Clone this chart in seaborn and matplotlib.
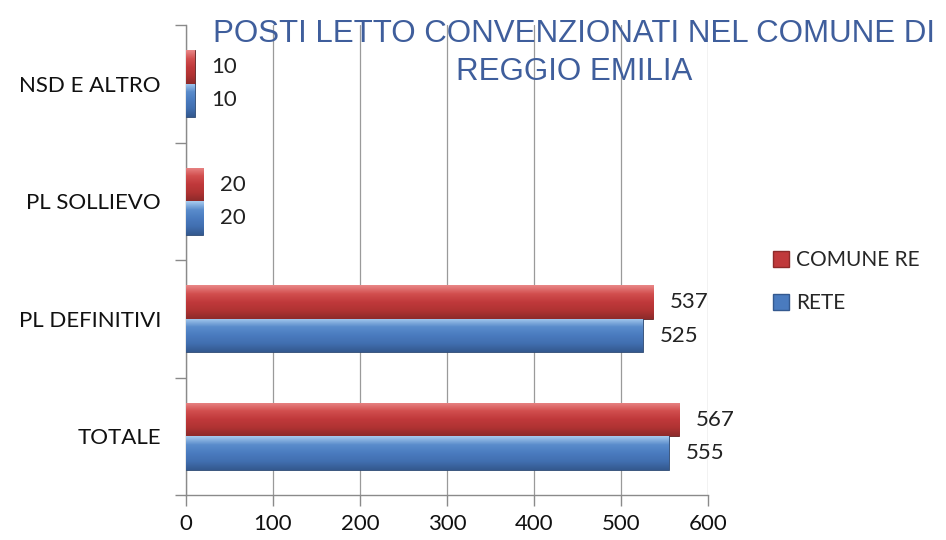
import numpy as np
import pandas as pd
import matplotlib
matplotlib.use("Agg")
import matplotlib.pyplot as plt
import seaborn as sns
from matplotlib.colors import LinearSegmentedColormap
from matplotlib.lines import Line2D

# data
categories = ["NSD E ALTRO", "PL SOLLIEVO", "PL DEFINITIVI", "TOTALE"]
series = ["COMUNE RE", "RETE"]
comune_re = [10, 20, 537, 567]
rete = [10, 20, 525, 555]
x_ticks = [0, 100, 200, 300, 400, 500, 600]
title_lines = ["POSTI LETTO CONVENZIONATI NEL COMUNE DI", "REGGIO EMILIA"]

df = pd.DataFrame({
    "categoria": categories * 2,
    "serie": [series[0]] * len(categories) + [series[1]] * len(categories),
    "posti": comune_re + rete,
})

sns.set_theme(style="white")
plt.rcParams["font.family"] = ["Lato", "DejaVu Sans"]

base_colors = {"COMUNE RE": "#c0393b", "RETE": "#4a7bbf"}
grad_colors = {
    "COMUNE RE": ["#e98787", "#d24f4f", "#c0393b", "#b03333", "#8e2a2a"],
    "RETE": ["#a7cbee", "#5a8ccc", "#4a7bbf", "#416fb0", "#34598f"],
}

fig = plt.figure(figsize=(9.46, 5.4), dpi=100)
ax = fig.add_axes([0.1966, 0.0833, 0.5518, 0.8704])

sns.barplot(data=df, y="categoria", x="posti", hue="serie", order=categories,
            hue_order=series, palette=base_colors, orient="h", width=0.57,
            saturation=1, errorbar=None, legend=False, ax=ax, zorder=3)

# gradient fill for the bars, clipped to each patch
xlim, ylim = (0, 600), ax.get_ylim()
for cont, name in zip(ax.containers, series):
    cmap = LinearSegmentedColormap.from_list(name, grad_colors[name])
    grad = np.linspace(0, 1, 64).reshape(-1, 1)
    for p in cont.patches:
        x0, y0, w, h = p.get_x(), p.get_y(), p.get_width(), p.get_height()
        im = ax.imshow(grad, cmap=cmap, aspect="auto", origin="upper",
                       extent=(x0, x0 + w, y0 + h, y0), zorder=4)
        im.set_clip_path(p)
        p.set_edgecolor("#5a2020" if name == "COMUNE RE" else "#2c4770")
        p.set_linewidth(0.6)
    ax.bar_label(cont, padding=12, fontsize=16, color="#222222", zorder=5)
ax.set_xlim(*xlim)
ax.set_ylim(ylim)

ax.set_xticks(x_ticks)
ax.grid(axis="x", color="#9a9a9a", linewidth=0.9, zorder=0)
ax.set_axisbelow(True)
ax.set_xlabel("")
ax.set_ylabel("")
for s in ["top", "right"]:
    ax.spines[s].set_visible(False)
for s in ["left", "bottom"]:
    ax.spines[s].set_color("#8a8a8a")
    ax.spines[s].set_linewidth(1.0)

ax.tick_params(axis="x", bottom=True, direction="out", length=8, width=1,
               color="#8a8a8a", labelsize=16, pad=6, labelcolor="#111111")
ax.tick_params(axis="y", left=False, labelsize=16, pad=12, labelcolor="#111111")
ax.set_yticks(np.arange(-0.5, len(categories), 1.0), minor=True)
ax.tick_params(axis="y", which="minor", left=True, direction="out", length=8,
               width=1, color="#8a8a8a")

handles = [Line2D([], [], marker="s", linestyle="", markersize=11,
                  markerfacecolor=base_colors[s], markeredgecolor=grad_colors[s][-1])
           for s in series]
fig.legend(handles, series, loc="center left", bbox_to_anchor=(0.795, 0.478),
           frameon=False, fontsize=15, handletextpad=0.2, labelspacing=1.1,
           handlelength=1.0)

for line, y in zip(title_lines, [42, 80]):
    fig.text(574 / 946, 1 - y / 540, line, ha="center", va="baseline",
             color="#3f5e9c", fontsize=22.5, family=["Liberation Sans", "DejaVu Sans"])

fig.savefig("out.png", dpi=100)
